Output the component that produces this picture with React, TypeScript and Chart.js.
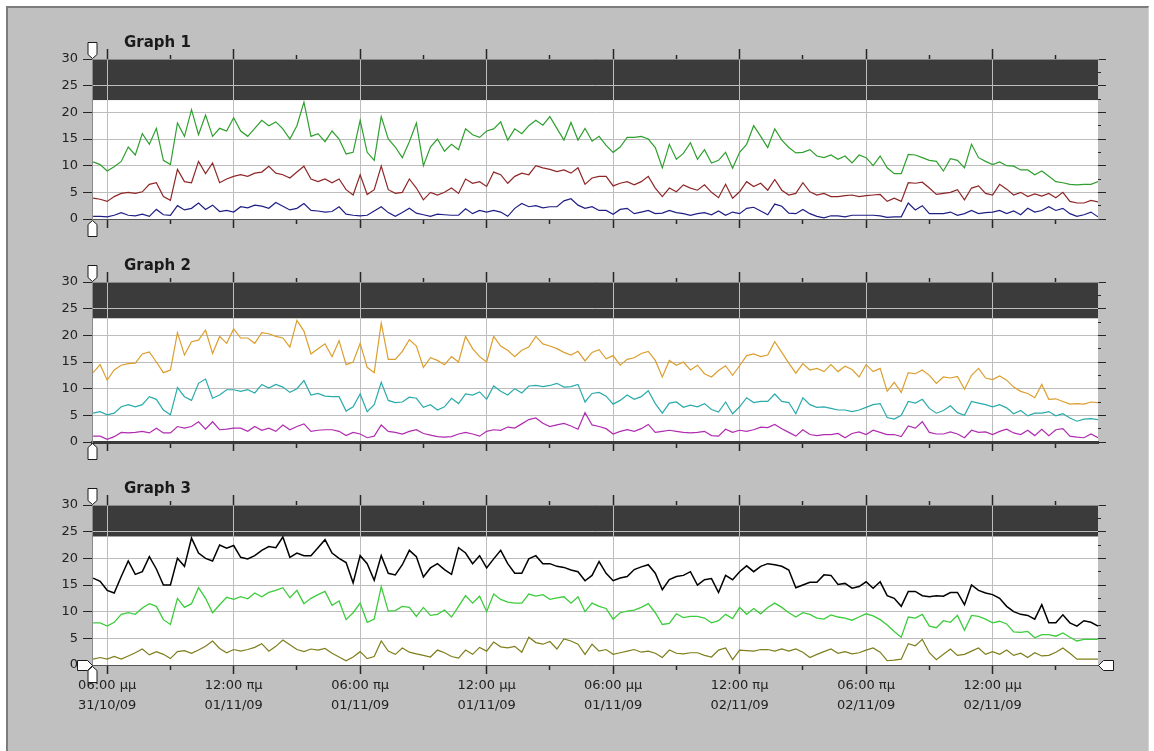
import React, { useEffect, useRef } from "react";
import { Chart, registerables } from "chart.js";

Chart.register(...registerables);

// ---------- time axis ----------
const sampleStartHour = 17 + 20 / 60; // 17:20 on 31/10/09 (hours since 00:00 31/10/09)
const sampleStepHours = 1 / 3; // one reading every 20 minutes
const axisStartHour = 17.28;
const axisEndHour = 65.0;

const majorTickHours = [18, 24, 30, 36, 42, 48, 54, 60];
const minorTickHours = [21, 27, 33, 39, 45, 51, 57, 63];
const timeTickLabels = [
  ["06:00 μμ", "31/10/09"],
  ["12:00 πμ", "01/11/09"],
  ["06:00 πμ", "01/11/09"],
  ["12:00 μμ", "01/11/09"],
  ["06:00 μμ", "01/11/09"],
  ["12:00 πμ", "02/11/09"],
  ["06:00 πμ", "02/11/09"],
  ["12:00 μμ", "02/11/09"],
];

// ---------- value axis ----------
const yMin = 0;
const yMax = 30;
const yStep = 2.5;
const yLabelValues = [0, 5, 10, 15, 20, 25, 30];

const graphTitles = ["Graph 1", "Graph 2", "Graph 3"];
const bandBottoms = [22.3, 23.2, 24.1];

// ---------- Graph 1 ----------
const g1Green = [
  10.7, 10.2, 9.0, 9.8, 10.8, 13.5, 12.0, 16.0, 14.0, 17.0, 11.0, 10.2,
  18.0, 15.5, 20.5, 15.8, 19.5, 15.5, 17.0, 16.5, 19.0, 16.5, 15.5, 17.0,
  18.5, 17.5, 18.2, 16.9, 15.0, 17.5, 21.9, 15.5, 16.0, 14.5, 16.5, 15.0,
  12.2, 12.5, 18.5, 12.5, 11.0, 19.2, 15.0, 13.5,
  11.5, 14.5, 18.0, 10.0, 13.5, 15.0, 12.7, 14.0, 13.0, 16.9, 15.8, 15.3,
  16.5, 16.9, 18.2, 14.8, 16.9, 16.0, 17.5, 18.5, 17.6, 19.2, 17.0, 14.8,
  18.1, 14.8, 17.0, 14.6, 15.5, 13.8, 12.5, 13.5, 15.3, 15.3, 15.5, 15.0,
  13.4, 9.6, 14.0, 11.2, 12.3, 14.3, 11.2, 13.0, 10.5, 11.0, 12.5, 9.5,
  12.5, 14.0, 17.5, 15.5, 13.4, 16.9,
  14.8, 13.4, 12.4, 12.5, 13.0, 11.8, 11.5, 12.0, 11.2, 11.8, 10.5, 12.0,
  11.5, 10.0, 11.8, 9.6, 8.5, 8.5, 12.1, 12.0, 11.5, 11.0, 10.8, 9.0,
  11.3, 11.0, 9.6, 14.0, 11.5, 10.8, 10.2, 10.7, 10.0, 9.9, 9.2, 9.2,
  8.3, 9.0, 8.0, 7.0, 6.8, 6.5, 6.4, 6.5, 6.5, 7.0,
];
const g1Red = [
  3.9, 3.7, 3.3, 4.2, 4.8, 5.0, 4.8, 5.1, 6.5, 6.8, 4.2, 3.5,
  9.3, 7.0, 6.8, 10.8, 8.5, 10.5, 6.8, 7.5, 8.0, 8.3, 8.0, 8.6,
  8.8, 9.9, 8.6, 8.3, 7.7, 8.8, 9.9, 7.5, 7.0, 7.5, 6.8, 7.5,
  5.5, 4.5, 8.3, 4.6, 5.5, 9.9, 5.5, 4.8,
  5.0, 7.5, 5.8, 3.6, 5.0, 4.5, 5.0, 5.8, 4.8, 7.5, 6.7, 7.0,
  6.1, 8.8, 8.3, 6.7, 8.0, 8.6, 8.3, 10.0, 9.6, 9.3, 8.9, 9.2,
  8.6, 9.6, 6.5, 7.7, 8.0, 8.0, 6.2, 6.7, 7.0, 6.4, 7.0, 8.0,
  5.8, 4.2, 5.8, 5.1, 6.4, 5.8, 5.4, 6.4, 5.0, 4.0, 6.5, 3.9,
  5.1, 7.0, 6.1, 6.7, 5.4, 7.4,
  5.4, 4.5, 4.8, 6.8, 5.1, 4.5, 4.8, 4.2, 4.2, 4.4, 4.5, 4.2,
  4.4, 4.5, 4.6, 3.3, 3.9, 3.3, 6.8, 6.7, 6.9, 5.8, 4.6, 4.8,
  5.0, 5.5, 3.6, 5.8, 6.2, 4.8, 4.5, 6.5, 5.6, 4.5, 5.0, 4.2,
  4.7, 4.3, 4.8, 4.0, 5.0, 3.3, 3.0, 3.0, 3.5, 3.2,
];
const g1Blue = [
  0.5, 0.5, 0.4, 0.7, 1.2, 0.7, 0.6, 0.9, 0.5, 1.8, 0.8, 0.7,
  2.5, 1.7, 2.0, 3.0, 1.8, 2.6, 1.4, 1.6, 1.3, 2.3, 2.1, 2.6,
  2.4, 2.0, 3.1, 2.4, 1.7, 2.0, 2.9, 1.6, 1.5, 1.3, 1.4, 2.3,
  0.9, 0.7, 0.6, 0.7, 1.5, 2.3, 1.2, 0.5,
  1.2, 2.0, 1.1, 0.8, 0.5, 0.9, 0.8, 0.7, 0.7, 1.9, 1.0, 1.6,
  1.3, 1.6, 1.3, 0.5, 2.0, 2.9, 2.3, 2.5, 2.1, 2.3, 2.3, 3.4,
  3.8, 2.6, 2.0, 2.3, 1.6, 1.6, 0.9, 1.8, 2.0, 1.0, 1.3, 1.6,
  1.0, 1.1, 1.6, 1.2, 1.0, 0.7, 1.0, 1.2, 0.8, 1.5, 0.7, 1.3,
  1.0, 2.0, 2.2, 1.5, 0.8, 2.8,
  2.4, 1.1, 1.0, 1.8, 1.0, 0.5, 0.2, 0.6, 0.6, 0.4, 0.7, 0.7,
  0.7, 0.7, 0.6, 0.3, 0.4, 0.4, 3.0, 1.7, 2.5, 1.0, 1.0, 1.0,
  1.3, 0.7, 1.0, 1.6, 1.0, 1.2, 1.3, 1.6, 1.0, 1.5, 0.8, 2.0,
  1.3, 1.6, 2.3, 1.6, 2.0, 1.0, 0.5, 0.8, 1.3, 0.4,
];

// ---------- Graph 2 ----------
const g2Orange = [
  13.0, 14.5, 11.6, 13.5, 14.4, 14.7, 14.8, 16.5, 16.9, 15.0, 13.0, 13.5,
  20.5, 16.3, 18.8, 19.1, 21.0, 16.6, 19.8, 18.5, 21.2, 19.5, 19.5, 18.5,
  20.5, 20.3, 19.8, 19.5, 17.8, 22.8, 20.8, 16.5, 17.5, 18.4, 16.0, 19.0,
  14.5, 15.0, 18.5, 14.0, 13.0, 22.3, 15.5, 15.5,
  17.0, 19.2, 18.0, 14.0, 15.8, 15.3, 14.5, 16.0, 15.0, 19.8, 17.5, 16.0,
  15.0, 19.8, 18.0, 17.2, 16.0, 17.2, 17.8, 19.8, 18.4, 18.0, 17.5, 16.8,
  16.3, 17.0, 15.2, 16.8, 17.3, 15.6, 16.2, 14.4, 15.5, 15.8, 16.6, 17.0,
  15.3, 12.2, 15.3, 14.4, 15.0, 13.5, 14.4, 12.8, 12.2, 13.4, 14.3, 12.5,
  14.3, 16.2, 16.5, 16.0, 16.3, 18.8,
  16.8, 14.8, 12.9, 14.7, 13.5, 13.8, 13.2, 14.5, 13.2, 14.2, 13.6, 12.2,
  14.5, 13.2, 13.8, 9.5, 11.2, 9.3, 13.0, 12.8, 13.5, 12.5, 11.0, 12.2,
  12.0, 12.3, 9.9, 12.5, 13.8, 12.0, 11.7, 12.4, 11.6, 10.3, 9.5, 9.1,
  8.3, 10.8, 8.0, 8.1, 7.6, 7.1, 7.2, 7.1, 7.5, 7.4,
];
const g2Teal = [
  5.4, 5.7, 5.1, 5.4, 6.6, 7.0, 6.6, 7.0, 8.5, 8.0, 6.0, 5.1,
  10.2, 8.5, 7.8, 11.0, 11.8, 8.2, 8.8, 9.8, 9.8, 9.5, 9.8, 9.2,
  10.8, 10.1, 10.8, 10.3, 9.3, 10.0, 11.5, 8.8, 9.1, 8.6, 8.5, 8.5,
  5.8, 6.6, 9.0, 5.7, 7.0, 11.2, 7.8, 7.4,
  7.5, 8.4, 8.2, 6.5, 7.0, 6.0, 6.6, 8.2, 7.2, 9.0, 8.8, 9.4,
  8.0, 10.5, 9.5, 8.8, 10.0, 9.2, 10.5, 10.6, 10.4, 10.6, 11.0, 10.3,
  10.4, 10.8, 7.5, 9.1, 9.3, 8.6, 7.1, 7.8, 8.8, 8.0, 8.5, 9.6,
  7.2, 5.4, 7.3, 7.5, 6.5, 6.9, 6.6, 7.2, 6.1, 5.6, 7.5, 5.3,
  6.6, 8.3, 7.4, 7.6, 7.6, 9.0,
  7.6, 7.4, 5.3, 8.3, 7.0, 6.5, 6.6, 6.3, 6.0, 6.0, 5.7, 6.0,
  6.5, 7.0, 7.2, 4.6, 4.3, 5.0, 7.6, 7.3, 8.0, 6.3, 5.4, 5.9,
  6.8, 5.5, 5.0, 7.6, 7.3, 7.0, 6.6, 7.0, 6.4, 5.3, 5.9, 4.9,
  5.4, 5.4, 5.7, 4.9, 5.3, 4.5, 3.9, 4.3, 4.4, 4.2,
];
const g2Magenta = [
  1.1, 1.1, 0.5, 1.0, 1.8, 1.7, 1.8, 2.0, 1.7, 2.6, 1.7, 1.7,
  2.9, 2.6, 2.9, 3.8, 2.4, 3.8, 2.3, 2.4, 2.6, 2.6, 2.0, 2.9,
  2.2, 2.6, 2.0, 3.2, 2.3, 2.9, 3.4, 2.0, 2.2, 2.3, 2.3, 2.0,
  1.2, 1.8, 1.5, 0.8, 1.1, 3.2, 2.0, 1.8,
  1.5, 2.0, 2.3, 1.6, 1.3, 1.0, 0.9, 1.0, 1.5, 1.8, 1.5, 1.1,
  2.0, 2.3, 2.2, 2.8, 2.6, 3.4, 4.2, 4.5, 3.5, 2.9, 3.2, 3.5,
  3.0, 2.4, 5.5, 3.2, 2.9, 2.5, 1.5, 2.0, 2.3, 2.0, 2.5, 3.3,
  1.8, 2.0, 2.2, 2.0, 1.8, 1.7, 1.8, 2.0, 1.2, 1.1, 2.4, 1.8,
  2.2, 2.0, 2.3, 2.8, 2.7, 3.3,
  2.5, 1.8, 1.1, 2.3, 1.4, 1.2, 1.4, 1.4, 1.6, 0.8, 1.6, 1.9,
  1.4, 2.2, 1.8, 1.4, 1.4, 1.0, 3.0, 2.6, 3.8, 1.8, 1.5, 1.5,
  1.9, 1.5, 0.8, 2.2, 1.8, 1.9, 1.4, 2.0, 2.4, 1.7, 1.4, 2.2,
  1.2, 2.4, 1.2, 2.3, 2.5, 1.1, 0.9, 0.8, 1.5, 0.8,
];

// ---------- Graph 3 ----------
const g3Black = [
  16.3, 15.7, 14.0, 13.5, 16.6, 19.5, 17.0, 17.5, 20.3, 18.0, 15.0, 15.0,
  20.0, 18.5, 23.8, 21.0, 20.0, 19.5, 22.5, 21.9, 22.4, 20.2, 19.9, 20.5,
  21.5, 22.2, 22.0, 24.0, 20.2, 21.0, 20.5, 20.5, 22.0, 23.5, 21.0, 20.0,
  19.2, 15.4, 20.5, 19.0, 15.9, 20.5, 17.2, 16.9,
  18.8, 21.5, 20.3, 16.5, 18.2, 19.0, 17.9, 17.0, 22.0, 21.0, 19.0, 20.5,
  18.2, 19.9, 21.5, 19.0, 17.2, 17.2, 19.9, 20.5, 19.0, 19.0, 18.5, 18.3,
  17.8, 17.5, 15.8, 16.8, 19.4, 17.2, 15.8, 16.3, 16.6, 17.9, 18.4, 18.8,
  17.2, 14.1, 16.0, 16.6, 16.8, 17.5, 15.0, 16.0, 16.2, 13.6, 16.8, 16.0,
  17.5, 18.6, 17.5, 18.5, 19.0, 18.8,
  18.5, 17.8, 14.5, 15.0, 15.5, 15.5, 16.9, 16.8, 15.1, 15.3, 14.4, 14.7,
  15.6, 14.4, 15.6, 13.0, 12.5, 11.0, 13.8, 13.8, 13.0, 12.8, 13.0, 12.9,
  13.6, 13.6, 11.3, 15.0, 14.0, 13.5, 13.2, 12.5, 11.0, 10.0, 9.5, 9.3,
  8.6, 11.3, 7.9, 7.9, 9.4, 7.9, 7.3, 8.3, 8.0, 7.3,
];
const g3Green = [
  7.9, 7.9, 7.3, 8.0, 9.5, 9.8, 9.5, 10.7, 11.5, 11.0, 8.5, 7.6,
  12.5, 10.8, 11.5, 14.5, 12.5, 9.8, 11.3, 12.7, 12.3, 12.8, 12.4, 13.5,
  12.8, 13.6, 14.0, 14.5, 12.6, 14.0, 11.5, 12.5, 13.2, 13.8, 11.2, 12.0,
  8.5, 9.8, 11.6, 8.0, 8.6, 14.7, 10.1, 10.2,
  11.0, 10.8, 9.1, 10.8, 9.3, 9.5, 10.3, 9.0, 11.0, 13.0, 11.6, 12.9,
  10.0, 13.3, 12.3, 11.8, 11.6, 11.6, 13.3, 12.9, 13.2, 12.3, 12.6, 12.8,
  11.6, 12.8, 10.0, 11.6, 11.0, 10.6, 8.6, 9.8, 10.1, 10.3, 10.8, 11.5,
  9.8, 7.6, 7.8, 9.6, 8.9, 9.1, 9.1, 8.8, 7.9, 8.3, 9.5, 8.7,
  10.8, 9.5, 10.6, 9.6, 10.8, 11.6,
  10.8, 9.8, 9.0, 9.8, 9.5, 8.8, 8.6, 9.4, 9.0, 8.8, 8.4, 9.0,
  9.6, 9.2, 8.5, 7.5, 6.3, 5.2, 9.0, 8.8, 9.5, 7.3, 7.0, 8.3,
  8.0, 9.3, 6.5, 9.3, 9.1, 8.6, 7.9, 8.2, 7.7, 6.2, 6.1, 6.3,
  5.1, 5.7, 5.7, 5.4, 6.0, 5.2, 4.5, 4.8, 4.8, 4.8,
];
const g3Olive = [
  1.1, 1.4, 1.1, 1.6, 1.1, 1.7, 2.3, 3.0, 1.9, 2.5, 2.0, 1.2,
  2.5, 2.7, 2.2, 2.8, 3.5, 4.5, 3.1, 2.3, 2.9, 2.6, 2.9, 3.3,
  4.0, 2.6, 3.5, 4.7, 3.8, 2.9, 2.5, 3.0, 2.8, 3.1, 2.2, 1.5,
  0.8, 1.5, 2.5, 1.2, 1.6, 4.5, 2.6, 2.0,
  3.2, 2.4, 2.1, 1.8, 1.5, 2.8, 2.3, 1.6, 1.3, 2.8, 2.0, 3.3,
  2.6, 4.3, 3.4, 3.2, 3.5, 2.4, 5.2, 4.2, 3.9, 4.4, 3.0, 4.9,
  4.5, 3.9, 2.0, 3.9, 2.6, 2.9, 2.0, 2.3, 2.6, 2.9, 2.4, 2.6,
  2.2, 1.4, 2.8, 2.2, 2.1, 2.3, 2.3, 1.8, 1.5, 2.8, 3.2, 1.0,
  2.8, 2.7, 2.6, 2.9, 2.9, 2.6,
  3.0, 2.6, 3.0, 2.4, 1.4, 2.0, 2.5, 3.0, 2.2, 2.5, 2.1, 2.3,
  2.8, 3.2, 2.4, 0.8, 0.9, 1.1, 4.0, 3.6, 4.8, 2.3, 1.0, 2.0,
  3.0, 1.8, 2.0, 2.6, 3.2, 2.0, 2.5, 2.0, 2.8, 1.8, 2.2, 1.4,
  2.3, 1.7, 1.8, 2.4, 3.2, 2.2, 1.1, 1.1, 1.1, 1.1,
];

// ---------- styling ----------
const FONT = "'DejaVu Sans', Verdana, sans-serif";
const GRID = "#bdbdbd";
const CLEAR = "rgba(0,0,0,0)";
const TICK = "#262626";

const panelSeries = [
  [
    { values: g1Green, color: "#2f9f2f", width: 1.2 },
    { values: g1Red, color: "#8e2626", width: 1.2 },
    { values: g1Blue, color: "#1e1e84", width: 1.2 },
  ],
  [
    { values: g2Orange, color: "#dc9e2e", width: 1.2 },
    { values: g2Teal, color: "#2aaaaa", width: 1.2 },
    { values: g2Magenta, color: "#b02cb0", width: 1.2 },
  ],
  [
    { values: g3Black, color: "#000000", width: 1.5 },
    { values: g3Green, color: "#3ccc3c", width: 1.3 },
    { values: g3Olive, color: "#7e7e1c", width: 1.2 },
  ],
];

const CANVAS_W = 1154;
const TOP_H = 22;
const AREA_H = 160;
const LEFT_W = 92;
const RIGHT_W = 56;
const panelLayout = [
  { canvasTop: 37, bottomH: 24 },
  { canvasTop: 260, bottomH: 24 },
  { canvasTop: 483, bottomH: 80 },
];

const allTickHours = [...majorTickHours, ...minorTickHours].sort((a, b) => a - b);
const isMajorHour = (v: number) => majorTickHours.some((h) => Math.abs(h - v) < 1e-6);
const isFive = (v: number) => yLabelValues.some((h) => Math.abs(h - v) < 1e-6);

function toPoints(vals: number[]) {
  return vals.map((v, i) => ({ x: sampleStartHour + i * sampleStepHours, y: v }));
}

function tab(ctx: CanvasRenderingContext2D, pts: number[][]) {
  ctx.beginPath();
  ctx.moveTo(pts[0][0], pts[0][1]);
  for (let i = 1; i < pts.length; i++) ctx.lineTo(pts[i][0], pts[i][1]);
  ctx.closePath();
  ctx.fillStyle = "#ffffff";
  ctx.fill();
  ctx.strokeStyle = "#1a1a1a";
  ctx.lineWidth = 1;
  ctx.stroke();
}

function decorPlugin(k: number) {
  return {
    id: "panelDecor" + k,
    beforeDraw(chart: any) {
      const { ctx, chartArea: a, scales } = chart;
      const y = scales.y;
      ctx.save();
      ctx.fillStyle = "#ffffff";
      ctx.fillRect(a.left, a.top, a.right - a.left, a.bottom - a.top);
      const yt = y.getPixelForValue(yMax);
      const yb = y.getPixelForValue(bandBottoms[k]);
      ctx.fillStyle = "#3b3b3b";
      ctx.fillRect(a.left, yt, a.right - a.left, yb - yt);
      ctx.restore();
    },
    afterDraw(chart: any) {
      const { ctx, chartArea: a } = chart;
      const L = Math.round(a.left) + 0.5;
      const T = Math.round(a.top) + 0.5;
      const B = Math.round(a.bottom) + 0.5;
      const R = Math.round(a.right) + 0.5;
      ctx.save();
      tab(ctx, [
        [L - 4.5, T - 17],
        [L + 4.5, T - 17],
        [L + 4.5, T - 5],
        [L, T - 1],
        [L - 4.5, T - 5],
      ]);
      if (k === 2) {
        tab(ctx, [
          [L - 15, B - 5],
          [L - 5, B - 5],
          [L, B],
          [L - 5, B + 5],
          [L - 15, B + 5],
        ]);
        tab(ctx, [
          [R, B],
          [R + 5, B - 5],
          [R + 15, B - 5],
          [R + 15, B + 5],
          [R + 5, B + 5],
        ]);
      }
      tab(ctx, [
        [L, B + 1],
        [L + 4.5, B + 5],
        [L + 4.5, B + 17],
        [L - 4.5, B + 17],
        [L - 4.5, B + 5],
      ]);
      ctx.restore();
    },
  };
}

function makeConfig(k: number): any {
  const bottomH = panelLayout[k].bottomH;
  const isLast = k === 2;
  return {
    type: "line",
    data: {
      datasets: panelSeries[k].map((s) => ({
        data: toPoints(s.values),
        borderColor: s.color,
        borderWidth: s.width,
        pointRadius: 0,
        fill: false,
        tension: 0,
        xAxisID: "x",
        yAxisID: "y",
      })),
    },
    options: {
      responsive: false,
      animation: false,
      events: [],
      layout: { padding: 0 },
      plugins: {
        legend: { display: false },
        tooltip: { enabled: false },
        title: { display: false },
      },
      scales: {
        x: {
          type: "linear",
          position: "bottom",
          min: axisStartHour,
          max: axisEndHour,
          afterBuildTicks: (s: any) => {
            s.ticks = allTickHours.map((v) => ({ value: v }));
          },
          afterFit: (s: any) => {
            s.height = bottomH;
          },
          grid: {
            color: (c: any) => (c.tick && isMajorHour(c.tick.value) ? GRID : CLEAR),
            lineWidth: 1,
            tickLength: 9,
            tickColor: TICK,
            tickWidth: 1.5,
            tickBorderDash: (c: any) => (c.tick && isMajorHour(c.tick.value) ? [] : [4, 100]),
          },
          border: {
            display: true,
            color: k === 1 ? "#3a3a3a" : "#555555",
            width: k === 1 ? 3 : 1,
          },
          ticks: {
            display: isLast,
            autoSkip: false,
            maxRotation: 0,
            minRotation: 0,
            padding: 2,
            color: "#222222",
            font: { family: FONT, size: 13, lineHeight: 1.5 },
            callback: (v: number) => {
              const idx = majorTickHours.findIndex((h) => Math.abs(h - v) < 1e-6);
              return idx >= 0 ? timeTickLabels[idx] : "";
            },
          },
        },
        xTop: {
          type: "linear",
          position: "top",
          min: axisStartHour,
          max: axisEndHour,
          afterBuildTicks: (s: any) => {
            s.ticks = allTickHours.map((v) => ({ value: v }));
          },
          afterFit: (s: any) => {
            s.height = TOP_H;
          },
          grid: {
            drawOnChartArea: false,
            color: GRID,
            tickLength: 10,
            tickColor: TICK,
            tickWidth: 1.5,
            tickBorderDash: (c: any) =>
              c.tick && isMajorHour(c.tick.value) ? [] : [0, 6, 4, 100],
          },
          border: { display: true, color: "#8a8a8a", width: 1 },
          ticks: { display: false },
        },
        y: {
          position: "left",
          min: yMin,
          max: yMax,
          afterFit: (s: any) => {
            s.width = LEFT_W;
          },
          ticks: {
            stepSize: yStep,
            padding: 5,
            color: "#222222",
            font: { family: FONT, size: 13 },
            callback: (v: number) => (isFive(v) ? String(v) : ""),
          },
          grid: {
            color: (c: any) =>
              c.tick && isFive(c.tick.value) && c.tick.value > yMin && c.tick.value < yMax
                ? GRID
                : CLEAR,
            lineWidth: 1,
            tickLength: 9,
            tickColor: TICK,
            tickWidth: 1,
            tickBorderDash: (c: any) =>
              c.tick && isFive(c.tick.value) ? [] : [0, 6, 3, 100],
          },
          border: { display: true, color: "#8a8a8a", width: 1 },
        },
        yRight: {
          position: "right",
          min: yMin,
          max: yMax,
          afterFit: (s: any) => {
            s.width = RIGHT_W;
          },
          ticks: { stepSize: yStep, display: false },
          grid: {
            drawOnChartArea: false,
            color: GRID,
            tickLength: 8,
            tickColor: TICK,
            tickWidth: 1,
            tickBorderDash: (c: any) => (c.tick && isFive(c.tick.value) ? [] : [3, 100]),
          },
          border: { display: false },
        },
      },
    },
    plugins: [decorPlugin(k)],
  };
}

export default function App() {
  const r0 = useRef<HTMLCanvasElement>(null);
  const r1 = useRef<HTMLCanvasElement>(null);
  const r2 = useRef<HTMLCanvasElement>(null);

  useEffect(() => {
    const refs = [r0, r1, r2];
    const charts = refs.map((r, k) => new Chart(r.current as HTMLCanvasElement, makeConfig(k)));
    return () => charts.forEach((c) => c.destroy());
  }, []);

  const refs = [r0, r1, r2];
  return (
    <div
      style={{
        position: "absolute",
        left: 0,
        top: 0,
        width: 1154,
        height: 751,
        background: "#ffffff",
        overflow: "hidden",
      }}
    >
      <div
        style={{
          position: "absolute",
          left: 6,
          top: 6,
          width: 1143,
          height: 745,
          background: "#c0c0c0",
          borderTop: "2px solid #7c7c7c",
          borderLeft: "2px solid #7c7c7c",
          borderRight: "1px solid #d4d4d4",
          boxSizing: "border-box",
        }}
      />
      {panelLayout.map((p, k) => (
        <React.Fragment key={k}>
          <canvas
            ref={refs[k]}
            width={CANVAS_W}
            height={TOP_H + AREA_H + p.bottomH}
            style={{
              position: "absolute",
              left: 0,
              top: p.canvasTop,
              width: CANVAS_W,
              height: TOP_H + AREA_H + p.bottomH,
            }}
          />
          <div
            style={{
              position: "absolute",
              left: 124,
              top: p.canvasTop - 4,
              fontFamily: "'DejaVu Sans', Verdana, sans-serif",
              fontWeight: "bold",
              fontSize: 15,
              color: "#1a1a1a",
              lineHeight: "18px",
              whiteSpace: "nowrap",
            }}
          >
            {graphTitles[k]}
          </div>
        </React.Fragment>
      ))}
    </div>
  );
}
